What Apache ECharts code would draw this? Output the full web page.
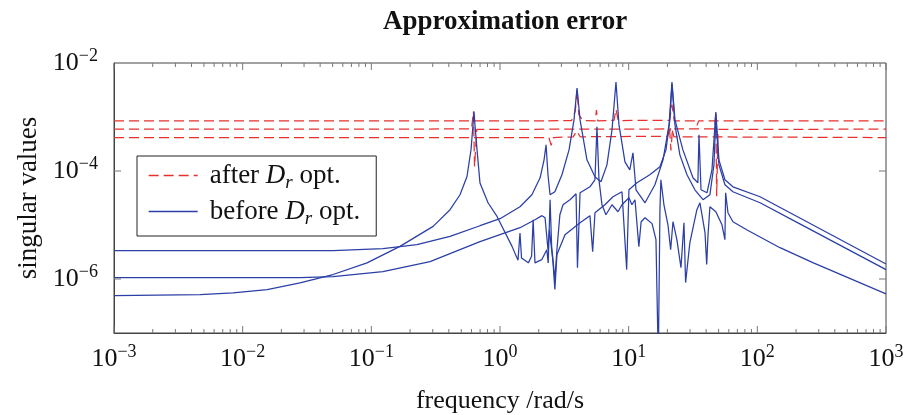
<!DOCTYPE html>
<html><head><meta charset="utf-8">
<script src="https://cdn.jsdelivr.net/npm/echarts@6/dist/echarts.min.js"></script>
<style>html,body{margin:0;padding:0;background:#fff}#c{width:906px;height:415px}</style>
</head><body><div id="c"></div>
<script>
// ---- data: [frequency (rad/s), singular value] ----
const before1 = [[1e-3,3.35e-6],[0.0504,3.35e-6],[0.123,3.65e-6],[0.226,4.32e-6],[0.409,6.15e-6],[0.699,9.7e-6],[1.0,1.31e-5],[1.43,2.18e-5],[1.77,3.63e-5],[2.05,7.48e-5],[2.20,1.61e-4],[2.28,3.05e-4],[2.36,8.51e-5],[2.45,3.63e-5],[2.67,4.13e-5],[3.03,8.51e-5],[3.44,2.46e-4],[3.76,8.84e-4],[3.97,3.45e-3],[4.19,8.84e-4],[4.74,1.61e-4],[5.47,7.82e-5],[6.09,6.31e-5],[6.78,1.3e-4],[7.42,5.78e-4],[7.97,4.45e-3],[8.41,7.14e-4],[9.36,1.48e-4],[10.2,1.05e-4],[10.8,2.17e-4],[11.4,4.49e-5],[13.4,2.58e-5],[16.0,5.56e-5],[18.5,1.61e-4],[20.6,7.14e-4],[21.7,4.45e-3],[22.9,8.84e-4],[26.4,2.46e-4],[31.6,7.48e-5],[34.5,6.05e-5],[35.2,4.67e-4],[36.5,4.49e-5],[40.6,3.95e-5],[44.4,1.05e-4],[47.6,1.24e-3],[50.3,1.61e-4],[56.0,6.87e-5],[64.6,5.1e-5],[105,3.34e-5],[214,1.35e-5],[1000,1.9e-6]];
const before2 = [[1e-3,1.06e-6],[0.0279,1.06e-6],[0.0504,1.11e-6],[0.123,1.37e-6],[0.286,2.1e-6],[0.699,4.91e-6],[1.43,8.91e-6],[1.87,1.25e-5],[2.12,1.49e-5],[2.24,1.36e-5],[2.36,3.49e-6],[2.42,8.18e-6],[2.58,2.1e-6],[2.67,6.37e-7],[2.77,2.83e-6],[3.20,6.62e-6],[4.19,1.1e-5],[5.00,1.49e-5],[5.25,3.21e-6],[5.47,1.69e-5],[6.54,2.37e-5],[7.55,3.34e-5],[8.87,4.13e-5],[9.65,1.49e-6],[10.05,4.49e-5],[11.6,6.05e-5],[14.6,8.51e-5],[17.5,1.2e-4],[19.5,2.46e-4],[20.9,8.84e-4],[21.7,4.09e-3],[22.9,7.14e-4],[25.0,1.99e-4],[28.4,8.51e-5],[32.7,4.49e-5],[37.8,2.94e-5],[42.8,3.63e-5],[46.0,1.3e-4],[47.6,9.62e-4],[50.3,1.3e-4],[56.0,5.56e-5],[64.6,4.13e-5],[105,2.58e-5],[214,1.05e-5],[1000,1.49e-6]];
const before3 = [[1e-3,4.93e-7],[4.67e-3,5.15e-7],[8.42e-3,5.53e-7],[0.0155,6.37e-7],[0.0279,8.47e-7],[0.0504,1.21e-6],[0.0926,1.99e-6],[0.167,4.02e-6],[0.302,9.42e-6],[0.409,1.92e-5],[0.489,3.63e-5],[0.554,7.91e-5],[0.595,2.46e-4],[0.617,7.14e-4],[0.628,1.26e-3],[0.639,7.14e-4],[0.663,2.46e-4],[0.699,5.97e-5],[0.807,2.58e-5],[0.948,1.44e-5],[1.24,4.02e-6],[1.38,2.22e-6],[1.43,7.11e-6],[1.47,2.45e-6],[1.66,1.99e-6],[1.76,2.63e-6],[1.81,1.25e-5],[1.87,1.99e-6],[2.11,2.28e-6],[2.31,3.49e-6],[2.37,1.99e-6],[2.45,2.94e-5],[2.52,4.02e-6],[2.67,9.75e-7],[2.77,3.49e-6],[2.92,1.55e-5],[3.09,2.37e-5],[3.50,2.94e-5],[3.90,3.79e-5],[4.00,1.62e-6],[4.19,3.95e-5],[5.00,5.1e-5],[5.47,6.87e-5],[5.67,6.56e-4],[5.88,6.87e-5],[6.20,2.37e-5],[6.66,1.55e-5],[7.42,2.37e-5],[8.26,1.76e-5],[8.87,2.37e-5],[10.05,3.2e-5],[10.6,2.37e-5],[11.2,2.94e-5],[12.0,3.97e-6],[12.5,1.15e-5],[13.4,1.36e-5],[15.2,1.06e-5],[16.3,5.35e-6],[17.0,3e-8],[17.5,1.92e-5],[17.8,6.87e-5],[18.8,2.37e-5],[20.2,1.01e-5],[21.2,3.49e-6],[22.1,1.15e-5],[23.7,5.35e-6],[25.5,1.62e-6],[26.9,1.1e-5],[27.7,8.58e-7],[29.9,4.71e-6],[33.9,1.92e-5],[35.8,2.58e-5],[39.2,7.21e-6],[40.4,1.85e-6],[41.3,6.08e-6],[42.8,2.18e-5],[47.6,1.76e-5],[53.1,1.01e-5],[56.0,5.35e-6],[56.7,3.95e-5],[59.1,1.69e-5],[64.6,1.15e-5],[82.6,8.18e-6],[150,3.8e-6],[270,2.01e-6],[1000,5.31e-7]];
const after1 = [[1e-3,8.47e-4],[2.2,8.47e-4],[2.3,8.0e-4],[2.4,8.47e-4],[3.6,8.6e-4],[3.85,1.3e-3],[3.97,3.2e-3],[4.1,1.1e-3],[4.4,8.6e-4],[5.5,8.47e-4],[5.62,1.35e-3],[5.75,8.47e-4],[7.7,8.7e-4],[7.97,1.4e-3],[8.3,8.6e-4],[20.8,8.7e-4],[21.7,1.7e-3],[22.6,8.5e-4],[33,8.47e-4],[34,7.0e-4],[35,8.47e-4],[1000,8.47e-4]];
const after2 = [[1e-3,5.95e-4],[0.6,6.0e-4],[0.622,1.26e-3],[0.634,1.2e-4],[0.66,5.9e-4],[20.8,6.0e-4],[21.3,2.4e-4],[21.9,6.0e-4],[46.5,6.0e-4],[47.6,1.26e-3],[48.3,3.4e-5],[49.5,5.9e-4],[1000,5.95e-4]];
const after3 = [[1e-3,4.16e-4],[2.4,4.16e-4],[2.5,3.0e-4],[2.6,4.16e-4],[3.7,4.3e-4],[3.95,5.5e-4],[4.2,4.3e-4],[20,4.4e-4],[21.5,6.5e-4],[22.5,4.3e-4],[1000,4.16e-4]];
const legendNames = ['after', 'before'];
const xRange = [1e-3, 1e3];
const yRange = [1e-7, 1e-2];
const yLabelExps = [-2, -4, -6];
const xMajorTicks = [1e-3, 1e-2, 1e-1, 1, 10, 100, 1000];
const yMajorTicks = [1e-6, 1e-4];

// ---- chart ----
const FONT = '"Liberation Serif","Times New Roman",serif';
const BLUE = '#2b3fa6', RED = '#e8302f';
const xMinorTicks = [];
for (let e = -3; e < 3; e++) for (let k = 2; k <= 9; k++) xMinorTicks.push(k * Math.pow(10, e));
const tickDefs = [];
xMajorTicks.forEach(v => tickDefs.push({ax: 'x', v: v, len: 7}));
xMinorTicks.forEach(v => tickDefs.push({ax: 'x', v: v, len: 4}));
yMajorTicks.forEach(v => tickDefs.push({ax: 'y', v: v, len: 7}));

function expLabel(v) {
  const e = Math.round(Math.log10(v));
  return '{b|10}{s|' + (e < 0 ? '\u2212' + (-e) : String(e)) + '}';
}
const labelRich = {
  b: {fontFamily: FONT, fontSize: 26, color: '#111'},
  s: {fontFamily: FONT, fontSize: 18, color: '#111', padding: [0, 0, 14, 0]}
};

const chart = echarts.init(document.getElementById('c'), null, {renderer: 'canvas'});
const lineS = (name, data, color, dashed) => ({
  name: name, type: 'line', data: data, showSymbol: false, symbol: 'none',
  lineStyle: {color: color, width: 1.25, type: dashed ? [10, 5] : 'solid'},
  itemStyle: {color: color}, animation: false, silent: true, clip: true
});

chart.setOption({
  animation: false,
  title: {
    text: 'Approximation error', left: 500, textAlign: 'center', top: 4,
    textStyle: {fontFamily: FONT, fontWeight: 'bold', fontSize: 27, color: '#111'}
  },
  grid: {left: 114, right: 20, top: 63, bottom: 82, show: true, borderColor: '#444', borderWidth: 1,
         containLabel: false, outerBoundsMode: 'none'},
  legend: {
    data: legendNames, orient: 'vertical', left: 137, top: 156,
    backgroundColor: '#fff', borderColor: '#222', borderWidth: 1, borderRadius: 0,
    padding: [6, 16, 8, 11], itemGap: 6, itemWidth: 49, itemHeight: 14,
    itemStyle: {opacity: 0},
    lineStyle: {width: 1.3},
    textStyle: {
      fontFamily: FONT, fontSize: 27, color: '#111',
      rich: {
        n0: {fontFamily: FONT, fontSize: 27, color: '#111', lineHeight: 30, padding: [0, 0, 0, 7]},
        n: {fontFamily: FONT, fontSize: 27, color: '#111', lineHeight: 30},
        i: {fontFamily: FONT, fontSize: 27, color: '#111', fontStyle: 'italic', lineHeight: 30},
        r: {fontFamily: FONT, fontSize: 19, color: '#111', fontStyle: 'italic', padding: [14, 0, 0, 0]}
      }
    },
    formatter: name => name === 'after' ? '{n0|after }{i|D}{r|r}{n| opt.}' : '{n0|before }{i|D}{r|r}{n| opt.}'
  },
  xAxis: {
    type: 'log', logBase: 10, min: xRange[0], max: xRange[1],
    axisLine: {show: true, lineStyle: {color: '#444', width: 1}},
    axisTick: {show: false}, splitLine: {show: false}, minorTick: {show: false},
    axisLabel: {formatter: expLabel, rich: labelRich, margin: 10, showMinLabel: true, showMaxLabel: true},
    name: 'frequency /rad/s', nameLocation: 'middle', nameGap: 55,
    nameTextStyle: {fontFamily: FONT, fontSize: 26, color: '#111'}
  },
  yAxis: {
    type: 'log', logBase: 10, min: yRange[0], max: yRange[1],
    axisLine: {show: true, lineStyle: {color: '#444', width: 1}},
    axisTick: {show: false}, splitLine: {show: false},
    axisLabel: {
      formatter: v => (yLabelExps.indexOf(Math.round(Math.log10(v))) >= 0 ? expLabel(v) : ''),
      rich: labelRich, margin: 16, showMinLabel: true, showMaxLabel: true
    },
    name: 'singular values', nameLocation: 'middle', nameGap: 70,
    nameTextStyle: {fontFamily: FONT, fontSize: 27, color: '#111'}
  },
  series: [
    lineS('after', after1, RED, true),
    lineS('after', after2, RED, true),
    lineS('after', after3, RED, true),
    lineS('before', before1, BLUE, false),
    lineS('before', before2, BLUE, false),
    lineS('before', before3, BLUE, false),
    {
      type: 'custom', name: 'ticks', silent: true, animation: false, z: 5,
      data: tickDefs.map(t => t.ax === 'x' ? [t.v, yRange[0]] : [xRange[0], t.v]),
      renderItem: function (params, api) {
        const t = tickDefs[params.dataIndex];
        const st = {stroke: '#777', lineWidth: 1};
        if (t.ax === 'x') {
          const a = api.coord([t.v, yRange[0]]), b = api.coord([t.v, yRange[1]]);
          return {type: 'group', children: [
            {type: 'line', shape: {x1: a[0], y1: a[1], x2: a[0], y2: a[1] - t.len}, style: st},
            {type: 'line', shape: {x1: b[0], y1: b[1], x2: b[0], y2: b[1] + t.len}, style: st}
          ]};
        }
        const a = api.coord([xRange[0], t.v]), b = api.coord([xRange[1], t.v]);
        return {type: 'group', children: [
          {type: 'line', shape: {x1: a[0], y1: a[1], x2: a[0] + t.len, y2: a[1]}, style: st},
          {type: 'line', shape: {x1: b[0], y1: b[1], x2: b[0] - t.len, y2: b[1]}, style: st}
        ]};
      }
    }
  ]
});
</script>
</body></html>
